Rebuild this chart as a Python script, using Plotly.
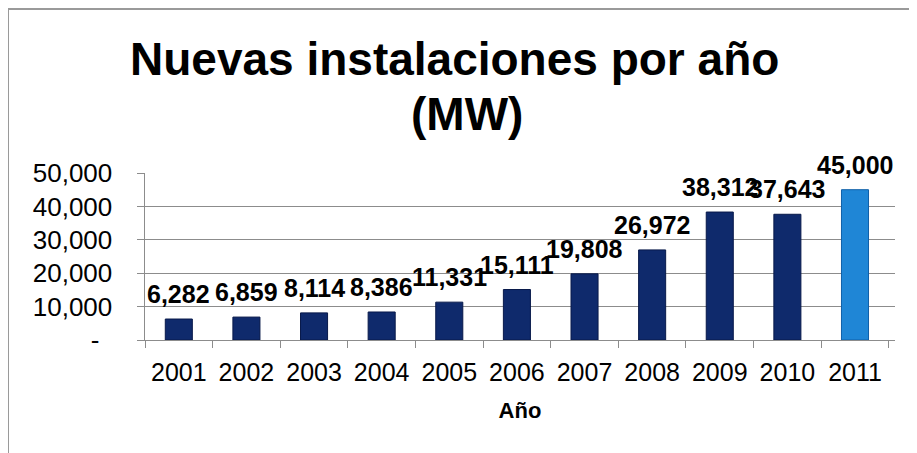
import plotly.graph_objects as go

years = ["2001", "2002", "2003", "2004", "2005", "2006", "2007", "2008", "2009", "2010", "2011"]
values = [6282, 6859, 8114, 8386, 11331, 15111, 19808, 26972, 38312, 37643, 45000]
labels = ["6,282", "6,859", "8,114", "8,386", "11,331", "15,111", "19,808", "26,972", "38,312", "37,643", "45,000"]
ytick_vals = [0, 10000, 20000, 30000, 40000, 50000]
ytick_text = ["-", "10,000", "20,000", "30,000", "40,000", "50,000"]
title_line1 = "Nuevas instalaciones por año"
title_line2 = "(MW)"
x_title = "Año"

W, H = 917, 453
OX, OY = 8, 8  # page body margin offset
L, R, T, B = 145 - OX, W - (895 - OX), 173 - OY, H - (340 - OY)
pw, ph = W - L - R, H - T - B

colors = ["#0f2a6c"] * (len(years) - 1) + ["#1f86d6"]
line_colors = ["#08194a"] * (len(years) - 1) + ["#0f5fa8"]

fig = go.Figure()
fig.add_trace(go.Bar(
    x=years, y=values,
    marker=dict(color=colors, line=dict(color=line_colors, width=1)),
    width=0.4,
    hoverinfo="skip",
))

for i, (v, lab) in enumerate(zip(values, labels)):
    fig.add_annotation(
        x=i, y=v, text="<b>" + lab + "</b>", showarrow=False,
        yanchor="bottom", yshift=9,
        font=dict(family="Liberation Sans, Arial", size=25, color="black"),
    )

def px_x(px):
    return (px - OX - L) / pw

def px_y(py):
    return (H - B - (py - OY)) / ph

# title, two lines
fig.add_annotation(xref="paper", yref="paper", x=px_x(454), y=px_y(87),
                   xanchor="center", yanchor="bottom", showarrow=False,
                   text="<b>" + title_line1 + "</b>",
                   font=dict(family="Liberation Sans, Arial", size=46, color="black"))
fig.add_annotation(xref="paper", yref="paper", x=px_x(467), y=px_y(142),
                   xanchor="center", yanchor="bottom", showarrow=False,
                   text="<b>" + title_line2 + "</b>",
                   font=dict(family="Liberation Sans, Arial", size=46, color="black"))

# chart frame (top and left edges)
fig.add_shape(type="line", xref="paper", yref="paper",
              x0=px_x(8), x1=px_x(940), y0=px_y(9), y1=px_y(9),
              line=dict(color="#9a9a9a", width=2))
fig.add_shape(type="line", xref="paper", yref="paper",
              x0=px_x(8), x1=px_x(8), y0=px_y(8.5), y1=px_y(480),
              line=dict(color="#9a9a9a", width=2))

fig.update_layout(
    width=W, height=H,
    margin=dict(l=L, r=R, t=T, b=B, autoexpand=False),
    paper_bgcolor="white", plot_bgcolor="white",
    showlegend=False,
    font=dict(family="Liberation Sans, Arial", color="black"),
)
fig.update_xaxes(
    type="category", automargin=False,
    showline=True, linecolor="#8c8c8c", linewidth=1,
    ticks="outside", tickson="boundaries", ticklen=7, tickcolor="#8c8c8c",
    tickfont=dict(size=25, color="black"),
    tickangle=0, ticklabelstandoff=10,
    title=dict(text="<b>" + x_title + "</b>", font=dict(size=22, color="black"), standoff=17),
    showgrid=False,
)
pad = "\u2002\u2005"  # spacing between labels and axis
ytick_display = [t + pad + ("\u2002" if t == "-" else "") for t in ytick_text]
fig.update_yaxes(
    range=[0, 50000], automargin=False,
    tickvals=ytick_vals, ticktext=ytick_display,
    showline=True, linecolor="#8c8c8c", linewidth=1,
    ticks="outside", ticklen=7, tickcolor="#8c8c8c",
    showgrid=True, gridcolor="#8c8c8c", gridwidth=1,
    zeroline=False,
    tickfont=dict(size=26, color="black"),
)

fig.write_html("out.html")
